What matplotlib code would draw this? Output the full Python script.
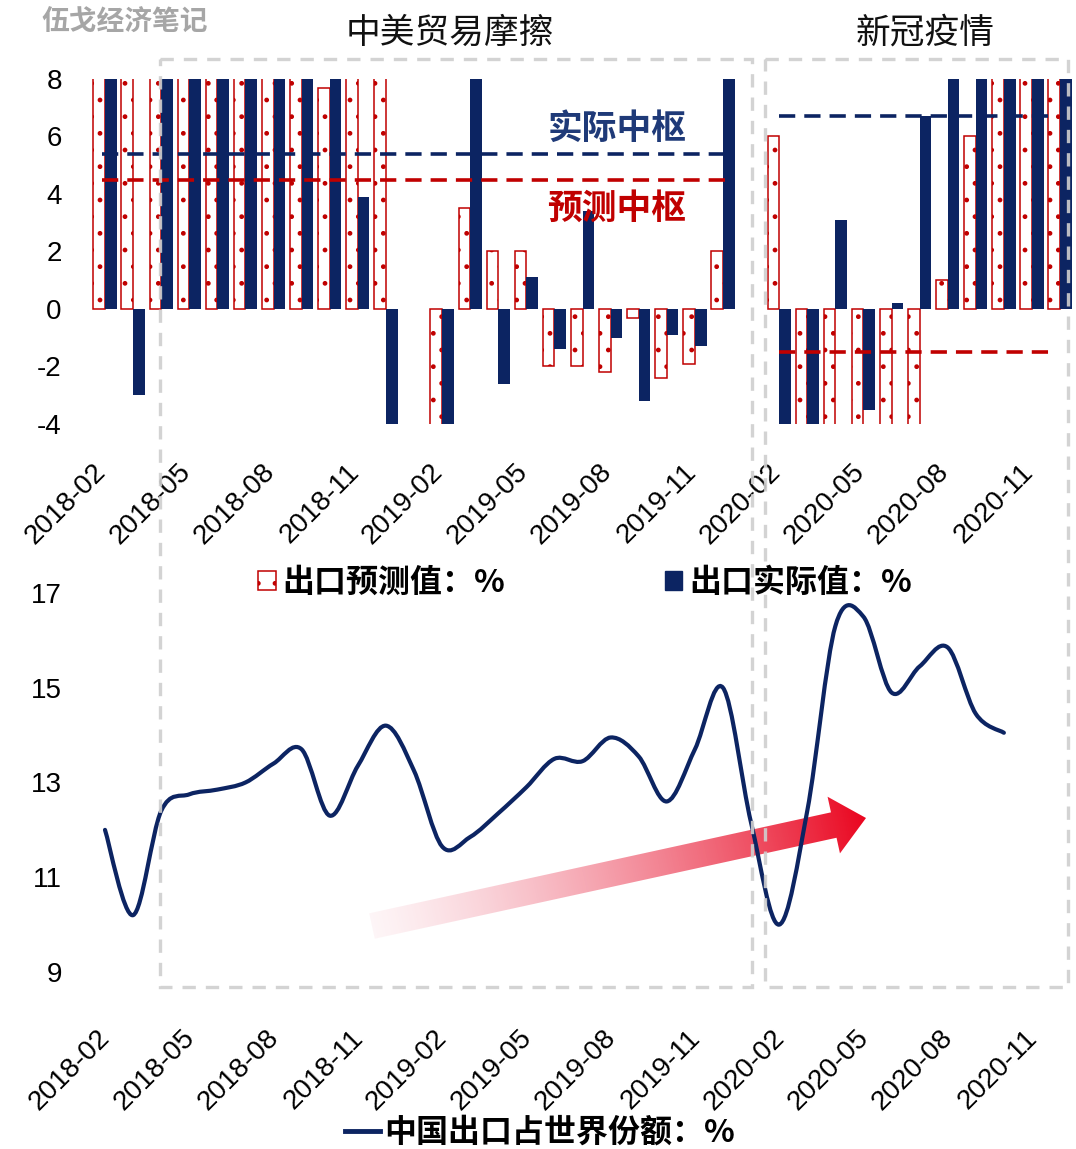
import numpy as np
import pandas as pd
import matplotlib
matplotlib.use('Agg')
import matplotlib.pyplot as plt
import matplotlib.transforms as mtransforms
from matplotlib.patches import Patch, Polygon, Rectangle, PathPatch
from matplotlib.lines import Line2D
from matplotlib.path import Path

plt.rcParams['font.family'] = ['Liberation Sans', 'Noto Sans CJK SC', 'DejaVu Sans']
plt.rcParams['hatch.linewidth'] = 1.0
plt.rcParams['axes.unicode_minus'] = False

# ---------------- data ----------------
months = [str(p) for p in pd.period_range('2018-02', '2020-12', freq='M')]
nan = np.nan
export_pred = [12.0, 11.8, 8.5, 9.5, 10.0, 10.0, 10.1, 8.9, 7.7, 10.0, 10.0,
               nan, -4.8, 3.5, 2.0, 2.0, -2.0, -2.0, -2.2, -0.3, -2.4, -1.9, 2.0,
               nan, 6.0, -14.0, -12.0, -7.0, -5.0, -4.5, 1.0, 6.0, 10.0, 12.0, 15.0]
export_actual = [44.5, -3.0, 12.9, 12.6, 11.3, 12.2, 9.8, 14.5, 15.6, 3.9, -4.4,
                 nan, -20.7, 14.2, -2.6, 1.1, -1.4, 3.4, -1.0, -3.2, -0.9, -1.3, 9.0,
                 nan, -17.2, -6.6, 3.1, -3.5, 0.2, 6.7, 9.5, 9.9, 11.4, 21.1, 18.1]
# centre levels over two periods (category index spans)
centre_spans = [(-0.1, 22.1), (24.0, 33.8)]
actual_centre = [5.4, 6.7]
pred_centre = [4.5, -1.5]

share_months = months[:33]
world_share = [12.0, 10.2, 12.4, 12.75, 12.85, 13.0, 13.4, 13.7, 12.3, 13.35, 14.2,
               13.25, 11.65, 11.85, 12.35, 12.9, 13.5, 13.45, 13.95, 13.55, 12.6, 13.7, 15.0,
               12.15, 10.0, 12.4, 16.3, 16.5, 14.9, 15.45, 15.85, 14.45, 14.05]

tick_idx = list(range(0, 34, 3))
tick_labels = [months[i] for i in tick_idx]

NAVY = '#0C2462'
RED = '#C00000'
GREY = '#CFCFCF'

W, H = 1076, 1149
fig = plt.figure(figsize=(W / 100, H / 100), dpi=100)

def frac(x0, y0, x1, y1):
    return [x0 / W, 1 - y1 / H, (x1 - x0) / W, (y1 - y0) / H]

# ---------------- background arrow ----------------
ax_bg = fig.add_axes([0, 0, 1, 1], zorder=0)
ax_bg.set_xlim(0, W)
ax_bg.set_ylim(H, 0)
ax_bg.axis('off')
start = np.array([372.0, 926.0])
tip = np.array([866.0, 818.0])
d = tip - start
L = np.hypot(*d)
u = d / L
nrm = np.array([-u[1], u[0]])
sw, hw, hl = 13.0, 29.0, 33.0
base = tip - u * hl
poly = [start + nrm * sw, base + nrm * sw, base + nrm * hw, tip,
        base - nrm * hw, base - nrm * sw, start - nrm * sw]
pts = np.array(poly)
xmin, ymin = pts.min(axis=0) - 2
xmax, ymax = pts.max(axis=0) + 2
nx, ny = 400, 160
gx, gy = np.meshgrid(np.linspace(xmin, xmax, nx), np.linspace(ymin, ymax, ny))
t = ((gx - start[0]) * u[0] + (gy - start[1]) * u[1]) / L
t = np.clip(t, 0, 1)
img = np.zeros((ny, nx, 4))
img[..., 0] = 0.92
img[..., 1] = 0.02 + 0.35 * (1 - t)
img[..., 2] = 0.12 + 0.35 * (1 - t)
img[..., 3] = 0.06 + 0.94 * t ** 1.1
clip = Polygon(poly, closed=True, transform=ax_bg.transData, fc='none', ec='none')
ax_bg.add_patch(clip)
im = ax_bg.imshow(img, extent=(xmin, xmax, ymax, ymin), origin='upper',
                  aspect='auto', interpolation='bilinear')
im.set_clip_path(clip)
ax_bg.set_xlim(0, W)
ax_bg.set_ylim(H, 0)


def shift_labels(ax, dx_px):
    off = mtransforms.ScaledTranslation(dx_px / 100, 0, fig.dpi_scale_trans)
    for lab in ax.get_xticklabels():
        lab.set_transform(lab.get_transform() + off)


# ---------------- top bar chart ----------------
x0_px = 105 - 14.05
x1_px = 105 + 34 * 28.09 + 14.05
ax1 = fig.add_axes(frac(x0_px, 79, x1_px, 424), zorder=1)
ax1.set_facecolor('none')
x = np.arange(len(months))
w = 0.415
ax1.bar(x - w / 2, export_pred, width=w, facecolor='white', edgecolor=RED,
        hatch='.', linewidth=1.1, zorder=2)
ax1.bar(x + w / 2, export_actual, width=w, color=NAVY, zorder=2)
for (a, b), ac, pc in zip(centre_spans, actual_centre, pred_centre):
    ax1.plot([a, b], [ac, ac], color=NAVY, lw=2.6, ls=(0, (4.5, 2.5)), zorder=3)
    ax1.plot([a, b], [pc, pc], color=RED, lw=2.6, ls=(0, (4.5, 2.5)), zorder=3)
ax1.set_xlim(-0.5, len(months) - 0.5)
ax1.set_ylim(-4, 8)
ax1.set_yticks([8, 6, 4, 2, 0, -2, -4])
ax1.set_yticklabels(['8', '6', '4', '2', '0', '-2', '-4'], fontsize=20)
ax1.set_xticks(tick_idx)
ax1.tick_params(axis='y', length=0, pad=21)
ax1.tick_params(axis='x', length=0, pad=25)
ax1.set_xticklabels(tick_labels, rotation=45, ha='right', va='top',
                    rotation_mode='anchor', fontsize=20)
shift_labels(ax1, -12)
for s in ax1.spines.values():
    s.set_visible(False)

# ---------------- bottom line chart ----------------
ax2 = fig.add_axes(frac(x0_px, 593, x1_px, 972), zorder=1)
ax2.set_facecolor('none')
xs = np.arange(len(world_share), dtype=float)
ys = np.asarray(world_share, dtype=float)
verts = [(xs[0], ys[0])]
codes = [Path.MOVETO]
n = len(xs)
for i in range(n - 1):
    p0 = np.array([xs[max(i - 1, 0)], ys[max(i - 1, 0)]])
    p1 = np.array([xs[i], ys[i]])
    p2 = np.array([xs[i + 1], ys[i + 1]])
    p3 = np.array([xs[min(i + 2, n - 1)], ys[min(i + 2, n - 1)]])
    c1 = p1 + (p2 - p0) / 6
    c2 = p2 - (p3 - p1) / 6
    verts += [tuple(c1), tuple(c2), tuple(p2)]
    codes += [Path.CURVE4] * 3
ax2.add_patch(PathPatch(Path(verts, codes), fill=False, edgecolor=NAVY, lw=3.0,
                        capstyle='round', joinstyle='round', zorder=3))
ax2.set_xlim(-0.5, len(months) - 0.5)
ax2.set_ylim(9, 17)
ax2.set_yticks([9, 11, 13, 15, 17])
ax2.set_yticklabels(['9', '11', '13', '15', '17'], fontsize=20)
ax2.set_xticks(tick_idx)
ax2.tick_params(axis='y', length=0, pad=21)
ax2.tick_params(axis='x', length=0, pad=38)
ax2.set_xticklabels(tick_labels, rotation=45, ha='right', va='top',
                    rotation_mode='anchor', fontsize=20)
shift_labels(ax2, -8)
for s in ax2.spines.values():
    s.set_visible(False)

# ---------------- foreground: dashed boxes and texts ----------------
ax_fg = fig.add_axes([0, 0, 1, 1], zorder=5)
ax_fg.set_xlim(0, W)
ax_fg.set_ylim(H, 0)
ax_fg.axis('off')
ax_fg.set_facecolor('none')
ax_fg.add_patch(Rectangle((160, 59), 592, 928, fill=False, ec=GREY, lw=2.4,
                          ls=(0, (4, 3)), alpha=0.9))
ax_fg.add_patch(Rectangle((765, 59), 303, 928, fill=False, ec=GREY, lw=2.4,
                          ls=(0, (4, 3)), alpha=0.9))

cjk = ['Noto Sans CJK SC', 'DejaVu Sans']
fig.text(125 / W, 1 - 22 / H, '伍戈经济笔记', ha='center', va='center', fontsize=20,
         color='#A6A6A6', fontweight='bold', family=cjk)
fig.text(450 / W, 1 - 33 / H, '中美贸易摩擦', ha='center', va='center', fontsize=25,
         color='#111111', family=cjk)
fig.text(925 / W, 1 - 33 / H, '新冠疫情', ha='center', va='center', fontsize=25,
         color='#111111', family=cjk)
fig.text(617 / W, 1 - 128 / H, '实际中枢', ha='center', va='center', fontsize=25,
         color='#1F3A78', fontweight='bold', family=cjk)
fig.text(617 / W, 1 - 208 / H, '预测中枢', ha='center', va='center', fontsize=25,
         color=RED, fontweight='bold', family=cjk)

leg_prop = {'family': cjk, 'size': 23, 'weight': 'bold'}
fig.legend(handles=[Patch(facecolor='white', edgecolor=RED, hatch='.', lw=1.1),
                    Patch(facecolor=NAVY, edgecolor=NAVY)],
           labels=['出口预测值：%', '出口实际值：%'], loc='center',
           bbox_to_anchor=(585 / W, 1 - 583 / H), ncol=2, frameon=False,
           prop=leg_prop, columnspacing=5.0, handlelength=0.55, handleheight=0.55,
           handletextpad=0.2)
fig.legend(handles=[Line2D([0], [0], color=NAVY, lw=3.5)],
           labels=['中国出口占世界份额：%'], loc='center',
           bbox_to_anchor=(540 / W, 1 - 1133 / H), frameon=False,
           prop=leg_prop, handlelength=1.1, handletextpad=0.15)

fig.savefig('out.png', dpi=100)
